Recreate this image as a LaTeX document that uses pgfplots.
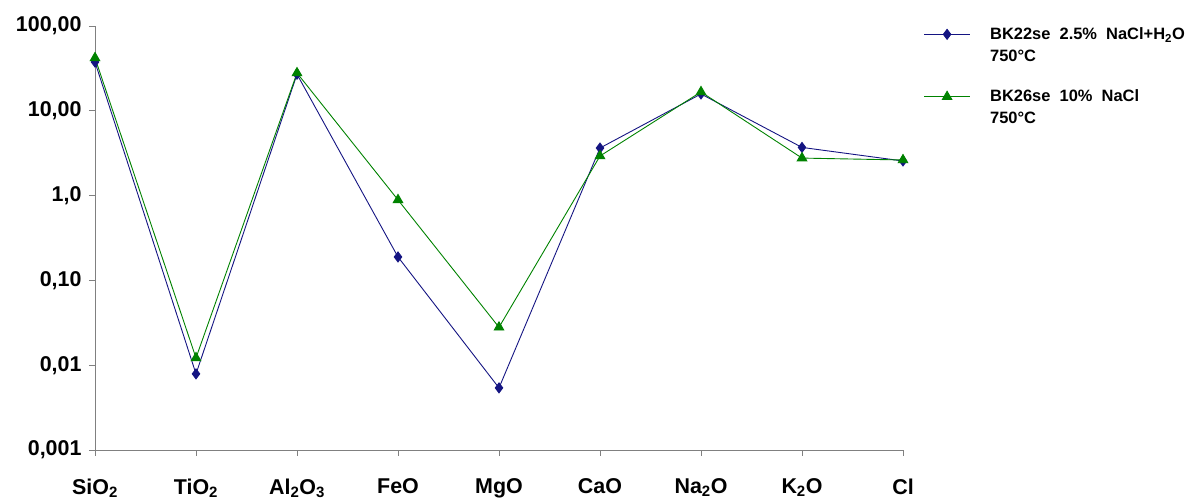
\documentclass[border=0pt]{standalone}
\usepackage{fontspec}
\setmainfont{Liberation Sans}
\usepackage{pgfplots}
\pgfplotsset{compat=1.18}
\definecolor{bkblue}{RGB}{20,20,130}
\definecolor{bkgreen}{RGB}{0,130,0}
\definecolor{axgray}{RGB}{128,128,128}
\begin{document}
\begin{tikzpicture}
\path[use as bounding box] (0,0) rectangle (1200bp,500bp);
\begin{axis}[
  at={(95bp,50bp)}, anchor=south west,
  scale only axis, width=808bp, height=424bp,
  ymode=log, ymin=0.001, ymax=100,
  xmin=0, xmax=8,
  clip=false,
  axis x line=bottom, axis y line=left,
  axis line style={-, axgray, line width=1pt},
  every tick/.style={axgray, line width=0.8pt},
  tick align=outside, major tick length=6bp,
  minor tick num=0, yminorticks=false,
  ytick={0.001,0.01,0.1,1,10,100},
  yticklabels={{0,001},{0,01},{0,10},{1,0},{10,00},{100,00}},
  xtick={0,1,2,3,4,5,6,7,8},
  xticklabels={SiO\textsubscript{2},TiO\textsubscript{2},Al\textsubscript{2}O\textsubscript{3},FeO,MgO,CaO,Na\textsubscript{2}O,K\textsubscript{2}O,Cl},
  tick label style={font=\bfseries\fontsize{21.5}{24}\selectfont},
  yticklabel style={xshift=-4bp},
  xticklabel style={yshift=-19bp},
  legend style={at={(1.022,1.006)}, anchor=north west, draw=none, fill=none,
    font=\bfseries\fontsize{16.5}{19}\selectfont, row sep=45bp, column sep=18bp,
    cells={anchor=west}},
  legend cell align=left,
  legend image code/.code={%
    \draw[mark repeat=2,mark phase=2,#1] plot coordinates {(0cm,0cm) (0.8cm,0cm) (1.6cm,0cm)};},
]
\addplot[color=bkblue, line width=0.9pt, mark=diamond*, mark size=5pt, mark options={fill=bkblue}]
 coordinates {(0,37.6) (1,0.0079) (2,27) (3,0.189) (4,0.0054) (5,3.64) (6,15.8) (7,3.7) (8,2.56)};
\addlegendentry{\rlap{\raisebox{-22bp}[0pt][0pt]{750°C}}BK22se\ \ 2.5\%\ \ NaCl+H\textsubscript{2}O}
\addplot[color=bkgreen, line width=0.9pt, mark=triangle*, mark size=5.5pt, mark options={fill=bkgreen}]
 coordinates {(0,42) (1,0.0122) (2,27.9) (3,0.89) (4,0.028) (5,2.93) (6,16.7) (7,2.77) (8,2.63)};
\addlegendentry{\rlap{\raisebox{-22bp}[0pt][0pt]{750°C}}BK26se\ \ 10\%\ \ NaCl}
\end{axis}
\end{tikzpicture}
\end{document}
